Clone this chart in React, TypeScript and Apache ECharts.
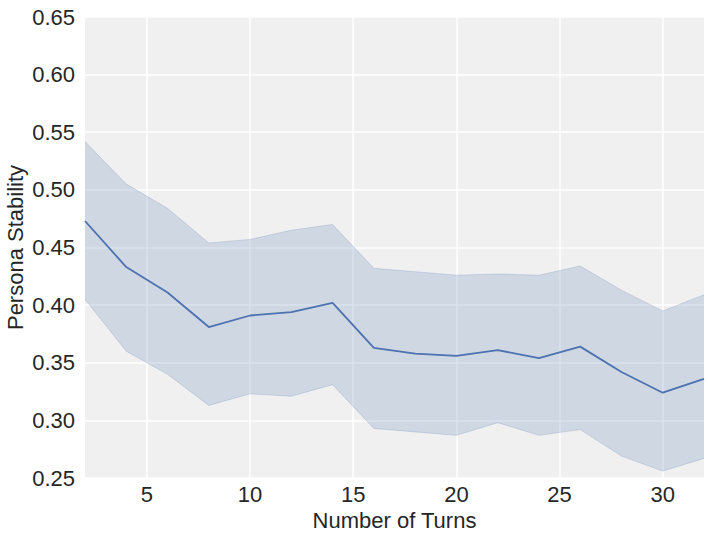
import React, { useEffect, useRef } from "react";
import * as echarts from "echarts";

const turns = [2, 4, 6, 8, 10, 12, 14, 16, 18, 20, 22, 24, 26, 28, 30, 32];
const meanValues = [0.473, 0.433, 0.411, 0.381, 0.391, 0.394, 0.402, 0.363, 0.358, 0.356, 0.361, 0.354, 0.364, 0.342, 0.324, 0.336];
const upperValues = [0.542, 0.505, 0.484, 0.454, 0.457, 0.465, 0.47, 0.432, 0.429, 0.426, 0.427, 0.426, 0.434, 0.413, 0.395, 0.409];
const lowerValues = [0.405, 0.36, 0.34, 0.313, 0.323, 0.321, 0.331, 0.293, 0.29, 0.287, 0.298, 0.287, 0.292, 0.269, 0.256, 0.267];
const yTicks = [0.25, 0.3, 0.35, 0.4, 0.45, 0.5, 0.55, 0.6, 0.65];
const xTicks = [5, 10, 15, 20, 25, 30];

const FONT = "'Liberation Sans', Arial, sans-serif";
const BLUE = "#4C72B0";
const BAND = "rgba(76,114,176,0.2)";

export default function App() {
  const ref = useRef<HTMLDivElement>(null);
  useEffect(() => {
    if (!ref.current) return;
    const chart = echarts.init(ref.current, undefined, { renderer: "svg" });
    const bandData = turns.map((t, i) => [t, lowerValues[i], upperValues[i]]);
    const upperData = turns.map((t, i) => [t, upperValues[i]]);
    const lowerData = turns.map((t, i) => [t, lowerValues[i]]);
    const meanData = turns.map((t, i) => [t, meanValues[i]]);
    chart.setOption({
      animation: false,
      backgroundColor: "#ffffff",
      grid: {
        left: 85,
        top: 17,
        right: 7,
        bottom: 60,
        show: true,
        backgroundColor: "#f0f0f0",
        borderWidth: 0,
        containLabel: false,
        outerBoundsMode: "none",
      },
      xAxis: {
        type: "value",
        min: 2,
        max: 32,
        name: "Number of Turns",
        nameLocation: "middle",
        nameGap: 31,
        nameMoveOverlap: false,
        nameTextStyle: { fontFamily: FONT, fontSize: 22, color: "#262626" },
        axisLine: { show: false },
        axisTick: { show: false, customValues: xTicks },
        axisLabel: {
          fontFamily: FONT,
          fontSize: 22,
          color: "#262626",
          margin: 5,
          customValues: xTicks,
          formatter: (v: number) => String(v),
        },
        splitLine: {
          show: true,
          lineStyle: { color: "#ffffff", width: 1.5 },
        },
      },
      yAxis: {
        type: "value",
        min: 0.25,
        max: 0.65,
        interval: 0.05,
        name: "Persona Stability",
        nameLocation: "middle",
        nameGap: 59,
        nameMoveOverlap: false,
        nameTextStyle: { fontFamily: FONT, fontSize: 22, color: "#262626" },
        axisLine: { show: false },
        axisTick: { show: false },
        axisLabel: {
          fontFamily: FONT,
          fontSize: 22,
          color: "#262626",
          margin: 10,
          formatter: (v: number) => {
            const t = yTicks.find((y) => Math.abs(y - v) < 1e-6);
            return t !== undefined ? t.toFixed(2) : "";
          },
        },
        splitLine: {
          show: true,
          lineStyle: { color: "#ffffff", width: 1.5 },
        },
      },
      series: [
        {
          type: "custom",
          data: bandData,
          encode: { x: 0, y: [1, 2] },
          z: 2,
          renderItem: (params: any, api: any) => {
            if (params.dataIndex !== 0) return null;
            const pts: number[][] = [];
            for (let i = 0; i < bandData.length; i++) {
              pts.push(api.coord([bandData[i][0], bandData[i][2]]));
            }
            for (let i = bandData.length - 1; i >= 0; i--) {
              pts.push(api.coord([bandData[i][0], bandData[i][1]]));
            }
            return {
              type: "polygon",
              shape: { points: pts },
              style: { fill: BAND, stroke: "none" },
            };
          },
        },
        {
          type: "line",
          data: upperData,
          symbol: "none",
          lineStyle: { color: BAND, width: 1 },
          z: 3,
        },
        {
          type: "line",
          data: lowerData,
          symbol: "none",
          lineStyle: { color: BAND, width: 1 },
          z: 3,
        },
        {
          type: "line",
          data: meanData,
          symbol: "none",
          lineStyle: { color: BLUE, width: 1.8 },
          z: 4,
        },
      ],
    });
    return () => chart.dispose();
  }, []);
  return (
    <div
      ref={ref}
      style={{ position: "absolute", left: 0, top: 0, width: 711, height: 538 }}
    />
  );
}
